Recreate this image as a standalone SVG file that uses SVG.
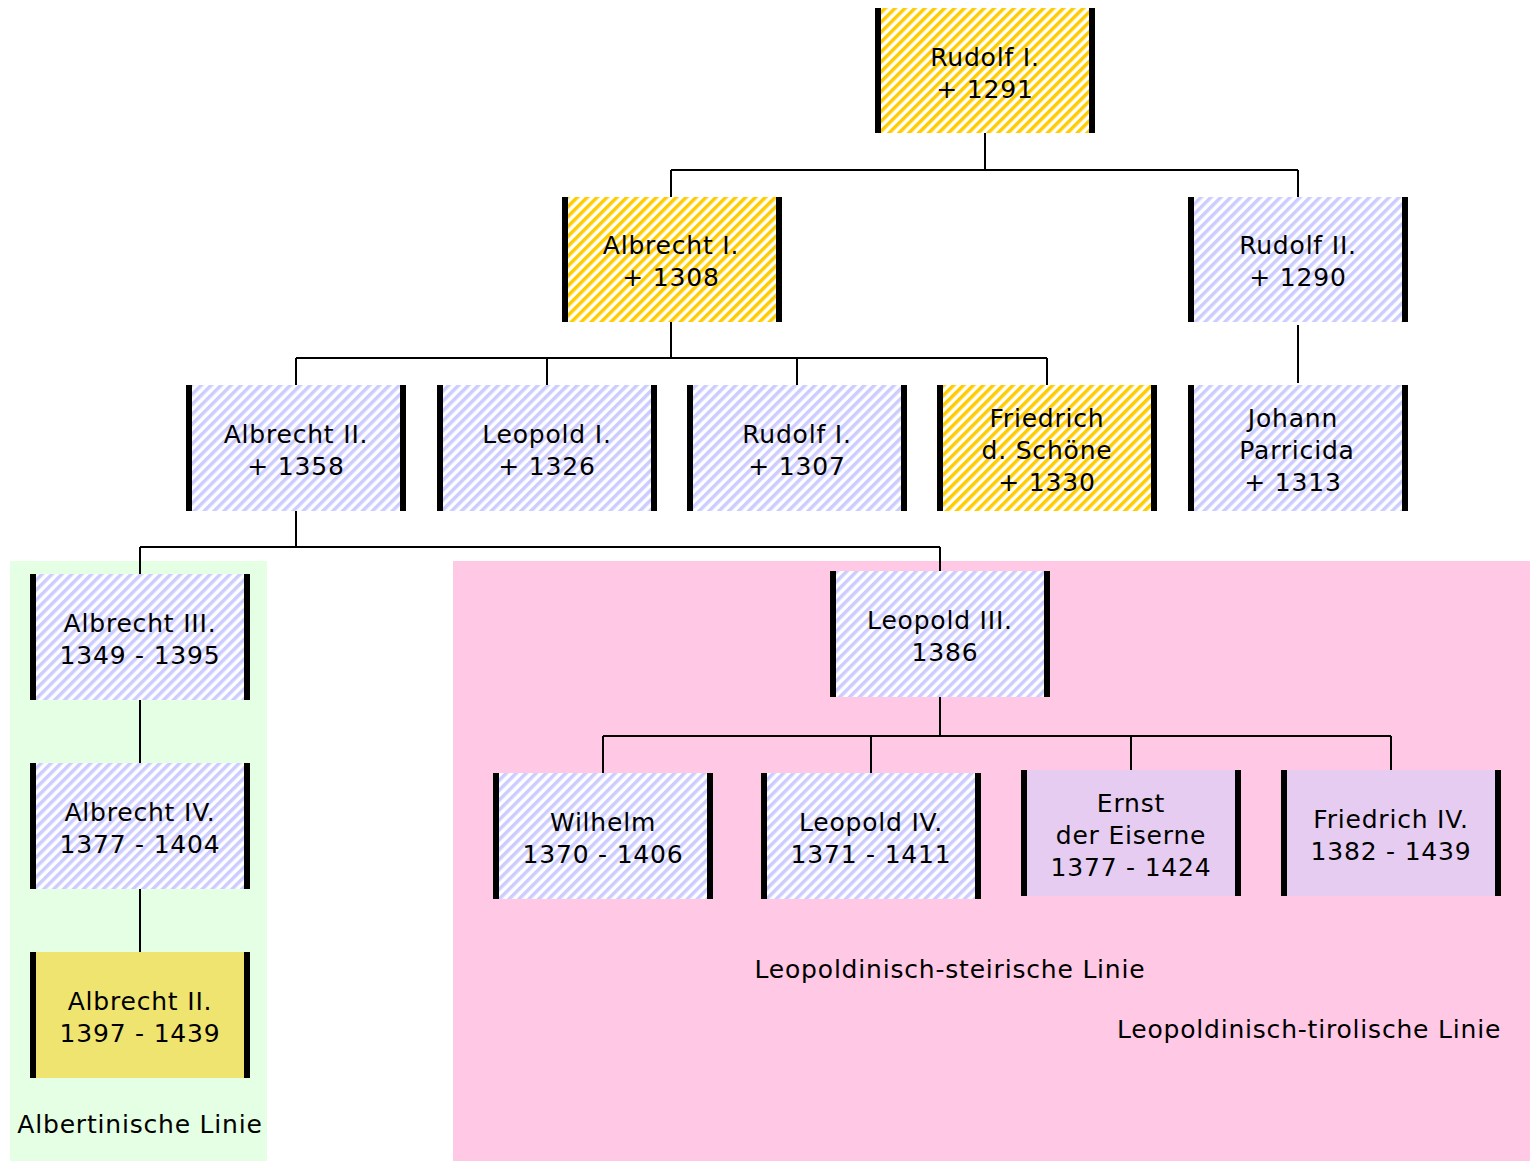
<svg xmlns="http://www.w3.org/2000/svg" width="1530" height="1161" viewBox="0 0 1530 1161">
<defs>
<pattern id="hy" width="7" height="7" patternUnits="userSpaceOnUse" patternTransform="rotate(45)"><rect width="7" height="7" fill="#ffffff"/><rect width="3.5" height="7" fill="#ffcc00"/></pattern>
<pattern id="hb" width="7" height="7" patternUnits="userSpaceOnUse" patternTransform="rotate(45)"><rect width="7" height="7" fill="#ffffff"/><rect width="3.5" height="7" fill="#ccccff"/></pattern>
</defs>
<style>
text{font-family:"DejaVu Sans","Verdana",sans-serif;font-size:25px;fill:#000;text-anchor:middle;letter-spacing:0.8px}
.bar{fill:#000}
.y{fill:url(#hy)}
.b{fill:url(#hb)}
.l{fill:#e5ccf0}
.k{fill:#f0e471}
.c{stroke:#000;stroke-width:2;fill:none}
</style>
<rect x="0" y="0" width="1530" height="1161" fill="#ffffff"/>
<g id="regions">
<rect x="10" y="561" width="257" height="600" fill="#e4ffe4"/>
<rect x="453" y="561" width="1077" height="600" fill="#ffc8e4"/>
<text x="140" y="1133">Albertinische Linie</text>
<text x="950" y="978">Leopoldinisch-steirische Linie</text>
<text x="1309" y="1038">Leopoldinisch-tirolische Linie</text>
</g>
<g id="connectors" class="c">
<path class="c" d="M985 133V170M671 170H1298M671 170V197M1298 170V197"/>
<path class="c" d="M671 322V358M296 358H1047M296 358V385M547 358V385M797 358V385M1047 358V385"/>
<path class="c" d="M1298 325V383"/>
<path class="c" d="M296 511V547M140 547H940M140 547V574M940 547V571"/>
<path class="c" d="M140 700V763M140 889V952"/>
<path class="c" d="M940 697V736M603 736H1391M603 736V773M871 736V773M1131 736V770M1391 736V770"/>
</g>
<g id="rudolf1">
<rect class="y" x="875" y="8" width="220" height="125"/>
<rect class="bar" x="875" y="8" width="6" height="125"/><rect class="bar" x="1089" y="8" width="6" height="125"/>
<text x="985" y="66">Rudolf I.</text><text x="985" y="98">+ 1291</text>
</g>
<g id="albrecht1">
<rect class="y" x="562" y="197" width="220" height="125"/>
<rect class="bar" x="562" y="197" width="6" height="125"/><rect class="bar" x="776" y="197" width="6" height="125"/>
<text x="671" y="254">Albrecht I.</text><text x="671" y="286">+ 1308</text>
</g>
<g id="rudolf2">
<rect class="b" x="1188" y="197" width="220" height="125"/>
<rect class="bar" x="1188" y="197" width="6" height="125"/><rect class="bar" x="1402" y="197" width="6" height="125"/>
<text x="1298" y="254">Rudolf II.</text><text x="1298" y="286">+ 1290</text>
</g>
<g id="albrecht2">
<rect class="b" x="186" y="385" width="220" height="126"/>
<rect class="bar" x="186" y="385" width="6" height="126"/><rect class="bar" x="400" y="385" width="6" height="126"/>
<text x="296" y="443">Albrecht II.</text><text x="296" y="475">+ 1358</text>
</g>
<g id="leopold1">
<rect class="b" x="437" y="385" width="220" height="126"/>
<rect class="bar" x="437" y="385" width="6" height="126"/><rect class="bar" x="651" y="385" width="6" height="126"/>
<text x="547" y="443">Leopold I.</text><text x="547" y="475">+ 1326</text>
</g>
<g id="rudolf1b">
<rect class="b" x="687" y="385" width="220" height="126"/>
<rect class="bar" x="687" y="385" width="6" height="126"/><rect class="bar" x="901" y="385" width="6" height="126"/>
<text x="797" y="443">Rudolf I.</text><text x="797" y="475">+ 1307</text>
</g>
<g id="friedrich">
<rect class="y" x="937" y="385" width="220" height="126"/>
<rect class="bar" x="937" y="385" width="6" height="126"/><rect class="bar" x="1151" y="385" width="6" height="126"/>
<text x="1047" y="427">Friedrich</text><text x="1047" y="459">d. Schöne</text><text x="1047" y="491">+ 1330</text>
</g>
<g id="johann">
<rect class="b" x="1188" y="385" width="220" height="126"/>
<rect class="bar" x="1188" y="385" width="6" height="126"/><rect class="bar" x="1402" y="385" width="6" height="126"/>
<text x="1293" y="427">Johann</text><text x="1297" y="459">Parricida</text><text x="1293" y="491">+ 1313</text>
</g>
<g id="albrecht3">
<rect class="b" x="30" y="574" width="220" height="126"/>
<rect class="bar" x="30" y="574" width="6" height="126"/><rect class="bar" x="244" y="574" width="6" height="126"/>
<text x="140" y="632">Albrecht III.</text><text x="140" y="664">1349 - 1395</text>
</g>
<g id="albrecht4">
<rect class="b" x="30" y="763" width="220" height="126"/>
<rect class="bar" x="30" y="763" width="6" height="126"/><rect class="bar" x="244" y="763" width="6" height="126"/>
<text x="140" y="821">Albrecht IV.</text><text x="140" y="853">1377 - 1404</text>
</g>
<g id="albrecht2b">
<rect class="k" x="30" y="952" width="220" height="126"/>
<rect class="bar" x="30" y="952" width="6" height="126"/><rect class="bar" x="244" y="952" width="6" height="126"/>
<text x="140" y="1010">Albrecht II.</text><text x="140" y="1042">1397 - 1439</text>
</g>
<g id="leopold3">
<rect class="b" x="830" y="571" width="220" height="126"/>
<rect class="bar" x="830" y="571" width="6" height="126"/><rect class="bar" x="1044" y="571" width="6" height="126"/>
<text x="940" y="629">Leopold III.</text><text x="945" y="661">1386</text>
</g>
<g id="wilhelm">
<rect class="b" x="493" y="773" width="220" height="126"/>
<rect class="bar" x="493" y="773" width="6" height="126"/><rect class="bar" x="707" y="773" width="6" height="126"/>
<text x="603" y="831">Wilhelm</text><text x="603" y="863">1370 - 1406</text>
</g>
<g id="leopold4">
<rect class="b" x="761" y="773" width="220" height="126"/>
<rect class="bar" x="761" y="773" width="6" height="126"/><rect class="bar" x="975" y="773" width="6" height="126"/>
<text x="871" y="831">Leopold IV.</text><text x="871" y="863">1371 - 1411</text>
</g>
<g id="ernst">
<rect class="l" x="1021" y="770" width="220" height="126"/>
<rect class="bar" x="1021" y="770" width="6" height="126"/><rect class="bar" x="1235" y="770" width="6" height="126"/>
<text x="1131" y="812">Ernst</text><text x="1131" y="844">der Eiserne</text><text x="1131" y="876">1377 - 1424</text>
</g>
<g id="friedrich4">
<rect class="l" x="1281" y="770" width="220" height="126"/>
<rect class="bar" x="1281" y="770" width="6" height="126"/><rect class="bar" x="1495" y="770" width="6" height="126"/>
<text x="1391" y="828">Friedrich IV.</text><text x="1391" y="860">1382 - 1439</text>
</g>
</svg>
